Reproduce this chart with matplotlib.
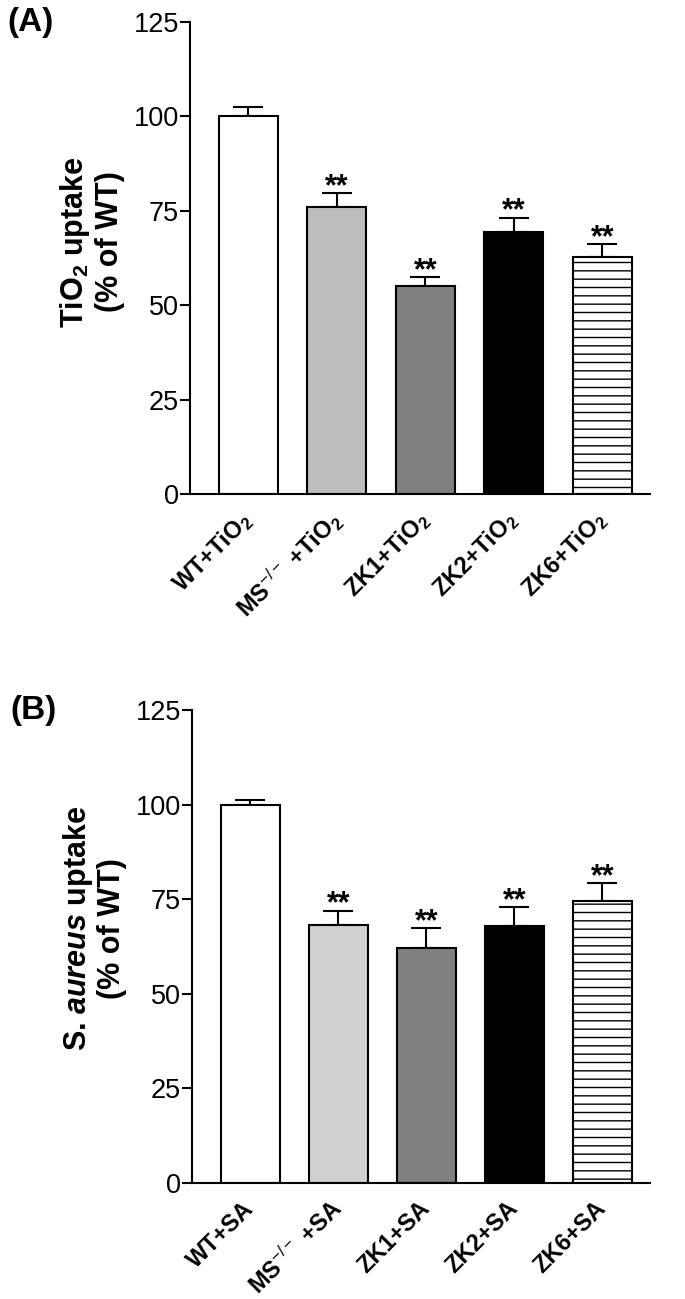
import matplotlib
matplotlib.use("Agg")
import matplotlib.pyplot as plt
import numpy as np

plt.rcParams['font.family'] = ['Liberation Sans', 'DejaVu Sans']
plt.rcParams['mathtext.fontset'] = 'custom'
plt.rcParams['mathtext.rm'] = 'Liberation Sans'
plt.rcParams['mathtext.bf'] = 'Liberation Sans:bold'
plt.rcParams['mathtext.it'] = 'Liberation Sans:bold:italic'
plt.rcParams['hatch.linewidth'] = 1.0

# Panel A: TiO2 uptake
labels_a = [r'WT+TiO$_\mathbf{2}$', r'MS$^{-/-}$ +TiO$_\mathbf{2}$', r'ZK1+TiO$_\mathbf{2}$',
            r'ZK2+TiO$_\mathbf{2}$', r'ZK6+TiO$_\mathbf{2}$']
values_a = [100.0, 76.0, 55.1, 69.5, 62.9]
errors_a = [2.4, 3.8, 2.4, 3.7, 3.4]
sig_a = ['', '**', '**', '**', '**']

# Panel B: S. aureus uptake
labels_b = ['WT+SA', r'MS$^{-/-}$ +SA', 'ZK1+SA', 'ZK2+SA', 'ZK6+SA']
values_b = [100.0, 68.3, 62.0, 67.9, 74.6]
errors_b = [1.3, 3.7, 5.3, 5.1, 4.7]
sig_b = ['', '**', '**', '**', '**']

colors_a = ['white', '#bdbdbd', '#808080', 'black', 'white']
colors_b = ['white', '#d0d0d0', '#808080', 'black', 'white']
hatches = [None, None, None, None, '--']

fig = plt.figure(figsize=(6.85, 12.99), dpi=100)
ax_a = fig.add_axes([0.2774, 0.6197, 0.949 - 0.2774, 0.983 - 0.6197])
ax_b = fig.add_axes([0.2803, 0.0893, 0.949 - 0.2803, 0.4534 - 0.0893])


def draw_panel(ax, labels, values, errors, sig, colors, ylabel, tag, label_y):
    x = np.arange(len(values))
    for i in x:
        ax.bar(x[i], values[i], width=0.667, color=colors[i], edgecolor='black',
               linewidth=1.5, hatch=hatches[i], zorder=2)
    ax.errorbar(x, values, yerr=[np.zeros(len(errors)), errors], fmt='none',
                ecolor='black', elinewidth=1.5, capsize=10.5, capthick=1.5, zorder=1)
    for i in x:
        if sig[i]:
            # asterisks sit just above the error cap
            ax.annotate(sig[i], xy=(x[i], values[i] + errors[i]), xytext=(0, -1.5),
                        textcoords='offset points', ha='center', va='baseline',
                        fontsize=22, fontweight='bold')
    ax.set_xlim(-0.66, 4.54)
    ax.set_ylim(0, 125)
    ax.set_yticks([0, 25, 50, 75, 100, 125])
    ax.tick_params(axis='y', labelsize=19.5, length=7, width=1.5, pad=1)
    ax.tick_params(axis='x', length=0, pad=16)
    ax.set_xticks(x)
    ax.set_xticklabels(labels, rotation=45, ha='right', va='center', rotation_mode='anchor',
                       fontsize=17, fontweight='bold')
    for s in ['top', 'right']:
        ax.spines[s].set_visible(False)
    for s in ['left', 'bottom']:
        ax.spines[s].set_linewidth(1.5)
    ax.set_ylabel(ylabel, fontsize=22, fontweight='bold', linespacing=1.1)
    ax.yaxis.set_label_coords(-0.142, label_y)
    ax.text(-0.396, 1.0, tag, transform=ax.transAxes, fontsize=24, fontweight='bold',
            ha='left', va='center')


draw_panel(ax_a, labels_a, values_a, errors_a, sig_a, colors_a,
           'TiO$_\\mathbf{2}$ uptake\n(% of WT)', '(A)', 0.534)
draw_panel(ax_b, labels_b, values_b, errors_b, sig_b, colors_b,
           'S. $\\mathit{aureus}$ uptake\n(% of WT)', '(B)', 0.539)

plt.savefig('out.png', dpi=100)
